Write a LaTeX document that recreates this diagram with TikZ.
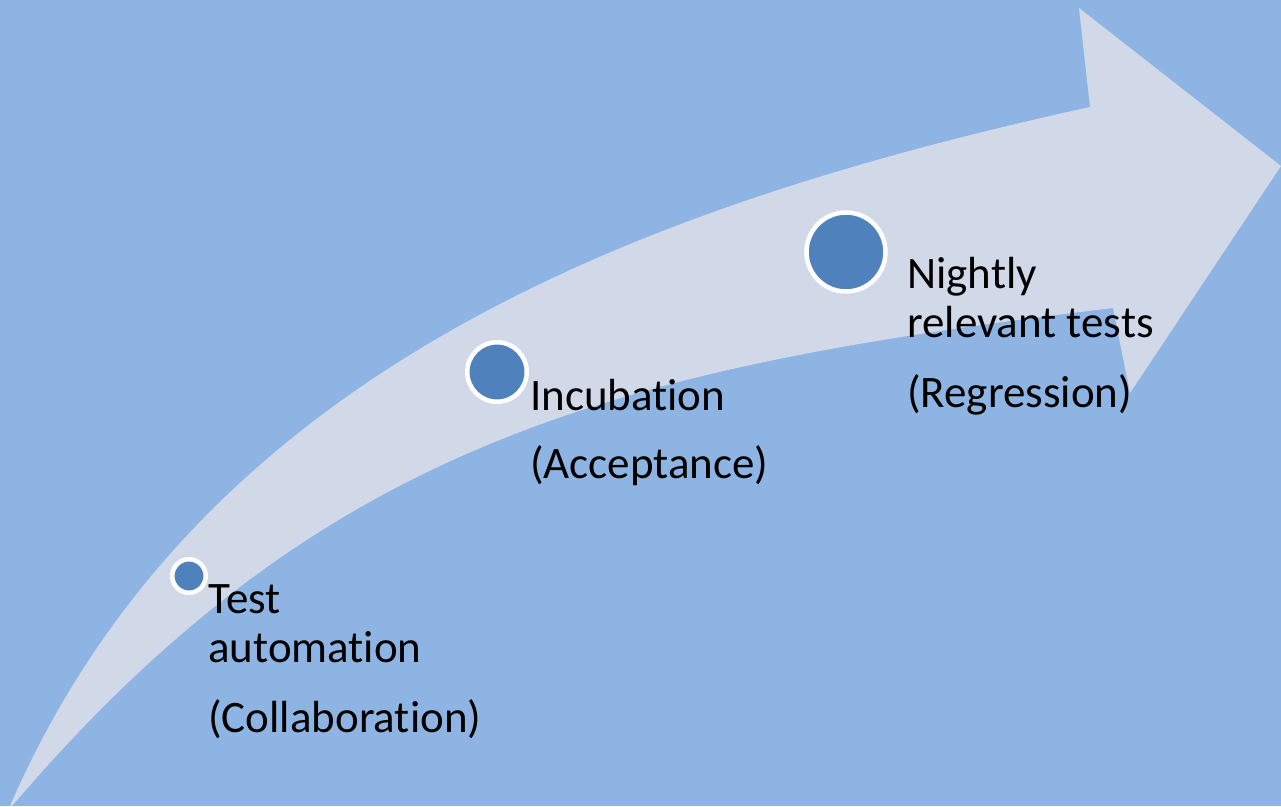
\documentclass[tikz,border=0pt]{standalone}
\usepackage{fontspec}
\setmainfont{Carlito}[Ligatures=NoCommon]
\definecolor{bgblue}{HTML}{8EB4E3}
\definecolor{arrowgrey}{HTML}{D1D9E8}
\definecolor{dotblue}{HTML}{4F81BD}
\begin{document}
\begin{tikzpicture}[x=1pt,y=-1pt,
  dot/.style={circle,fill=dotblue,draw=white,line width=4.5pt,inner sep=0pt,outer sep=0pt},
  lbl/.style={anchor=base west,inner sep=0pt,font=\fontsize{45}{49}\selectfont}]
\useasboundingbox (0,0) rectangle (1281,806);
\fill [bgblue] (0,0) rectangle (1281,806);
% the curved arrow
\fill [arrowgrey] (10,806) .. controls (200,369) and (640,206) .. (1090,107)
  -- (1079,8) -- (1281,166) -- (1130,393) -- (1113,308)
  .. controls (613,368) and (322,443) .. (12,806) -- cycle;
% stages
\node [dot,minimum size=33.5pt] (auto) at (189,576) {};
\node [dot,minimum size=59.5pt] (incub) at (497,372) {};
\node [dot,minimum size=79pt] (nightly) at (846,252) {};
\node [lbl] (autoA) at (208,613) {Test};
\node [lbl] (autoB) at (208,662) {automation};
\node [lbl] (autoC) at (208,732) {(Collaboration)};
\node [lbl] (incubA) at (530,410) {Incubation};
\node [lbl] (incubB) at (530,478) {(Acceptance)};
\node [lbl] (nightlyA) at (907,288) {Nightly};
\node [lbl] (nightlyB) at (907,337) {relevant tests};
\node [lbl] (nightlyC) at (907,407) {(Regression)};
\end{tikzpicture}
\end{document}
